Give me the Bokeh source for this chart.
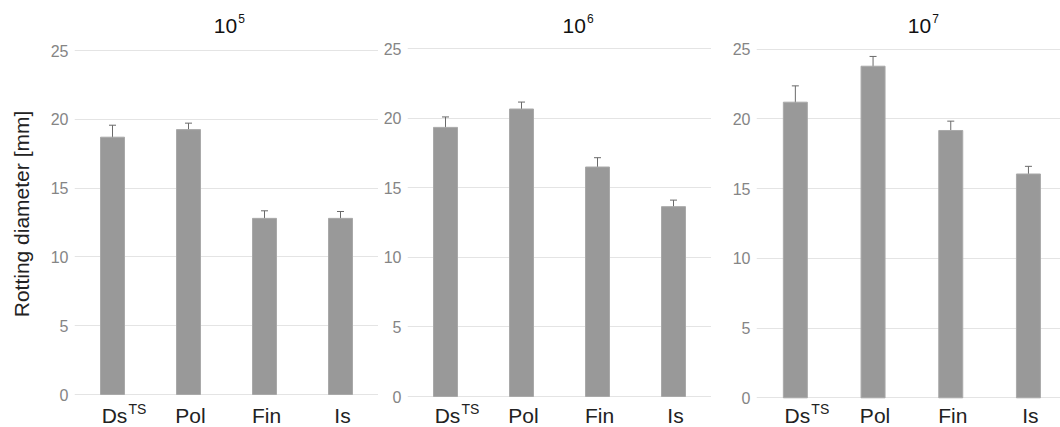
from bokeh.plotting import figure
from bokeh.layouts import row
from bokeh.models import Range1d, FixedTicker, ColumnDataSource, Whisker, TeeHead
from bokeh.core.properties import value
from bokeh.embed import file_html
from bokeh.resources import INLINE

# ---- data ----
categories = ["Ds", "Pol", "Fin", "Is"]
cat_superscripts = ["TS", "", "", ""]
panel_titles = ["10", "10", "10"]
panel_exponents = ["5", "6", "7"]

means_1e5 = [18.7, 19.25, 12.8, 12.8]
errs_1e5 = [0.87, 0.47, 0.55, 0.5]
means_1e6 = [19.35, 20.67, 16.5, 13.65]
errs_1e6 = [0.75, 0.5, 0.67, 0.47]
means_1e7 = [21.2, 23.78, 19.17, 16.05]
errs_1e7 = [1.17, 0.7, 0.67, 0.55]

y_ticks = [0, 5, 10, 15, 20, 25]
y_label = "Rotting diameter [mm]"

FONT = "Liberation Sans"
H = 427
PAGE_TOP = 0
TXT_SHIFT = 7  # empirical baseline correction (px)

# panel geometry (page pixels)
panels = [
    dict(means=means_1e5, errs=errs_1e5, width=378, border=74, frame_left=74, ppu=76.0,
         zero=394.0, top25=50.0, title_left=213.3),
    dict(means=means_1e6, errs=errs_1e6, width=333, border=29, frame_left=407, ppu=76.0,
         zero=396.0, top25=48.3, title_left=562.0),
    dict(means=means_1e7, errs=errs_1e7, width=349, border=45, frame_left=756, ppu=77.7,
         zero=397.3, top25=48.7, title_left=907.3),
]

figs = []
for i, cfg in enumerate(panels):
    s = (cfg["zero"] - cfg["top25"]) / 25.0
    def dy(page_y, cfg=cfg, s=s):
        return (cfg["zero"] - page_y) / s
    def ty(page_y, dy=dy):
        return dy(page_y - TXT_SHIFT)
    def dx(page_x, cfg=cfg):
        return (page_x - cfg["frame_left"]) / cfg["ppu"]
    frame_w = cfg["width"] - cfg["border"]
    x_end = frame_w / cfg["ppu"]
    y_start = dy(PAGE_TOP + H)
    y_end = dy(PAGE_TOP)

    p = figure(width=cfg["width"], height=H, output_backend="svg", toolbar_location=None,
               x_range=Range1d(0, x_end), y_range=Range1d(y_start, y_end),
               x_axis_location=None, min_border=0, min_border_left=cfg["border"],
               min_border_right=0, min_border_top=0, min_border_bottom=0)
    p.outline_line_color = None
    p.background_fill_color = "white"
    p.border_fill_color = "white"
    p.xgrid.visible = False
    p.ygrid.ticker = FixedTicker(ticks=y_ticks)
    p.ygrid.grid_line_color = "#e4e4e4"
    p.ygrid.grid_line_width = 1
    ax = p.yaxis[0]
    ax.ticker = FixedTicker(ticks=y_ticks)
    ax.axis_line_color = None
    ax.major_tick_line_color = None
    ax.minor_tick_line_color = None
    ax.major_tick_out = 0
    ax.major_label_standoff = 6
    ax.major_label_text_font = FONT
    ax.major_label_text_font_size = "16px"
    ax.major_label_text_color = "#858585"
    if i == 0:
        ax.axis_label = y_label
        ax.axis_label_text_font = FONT
        ax.axis_label_text_font_size = "21px"
        ax.axis_label_text_font_style = "normal"
        ax.axis_label_text_color = "#222222"
        ax.axis_label_standoff = 15

    xs = [k + 0.5 for k in range(len(categories))]
    src = ColumnDataSource(dict(
        x=xs, top=cfg["means"],
        upper=[m + e for m, e in zip(cfg["means"], cfg["errs"])],
        lower=[m - e for m, e in zip(cfg["means"], cfg["errs"])],
        cat=categories,
    ))
    p.vbar(x="x", top="top", bottom=0, width=24 / cfg["ppu"], source=src,
           fill_color="#999999", line_color="#a9a9a9", line_width=1)
    w = Whisker(source=src, base="x", upper="upper", lower="lower", dimension="height",
                line_color="#6a6a6a", line_width=1,
                upper_head=TeeHead(size=7, line_color="#6a6a6a", line_width=1),
                lower_head=TeeHead(size=7, line_color="#6a6a6a", line_width=1))
    p.add_layout(w)

    # category labels
    p.text(x="x", y=ty(422), text="cat", source=src, text_align="center",
           text_baseline="alphabetic", x_offset=2,
           text_font=value(FONT), text_font_size="21px", text_color="#222222")
    sup_x = [x for x, t in zip(xs, cat_superscripts) if t]
    sup_t = [t for t in cat_superscripts if t]
    p.text(x=sup_x, y=[ty(415)] * len(sup_x), text=sup_t, text_align="left",
           text_baseline="alphabetic", x_offset=16,
           text_font=value(FONT), text_font_size="14px", text_color="#222222")

    # title 10^n
    p.text(x=[dx(cfg["title_left"])], y=[ty(32.3)], text=[panel_titles[i]],
           text_align="left", text_baseline="alphabetic",
           text_font=value(FONT), text_font_size="21px", text_color="#111111")
    p.text(x=[dx(cfg["title_left"] + 24.5)], y=[ty(24.5)], text=[panel_exponents[i]],
           text_align="left", text_baseline="alphabetic",
           text_font=value(FONT), text_font_size="12px", text_color="#111111")
    figs.append(p)

layout = row(*figs, spacing=0)
open("out.html", "w").write(file_html(layout, INLINE))
